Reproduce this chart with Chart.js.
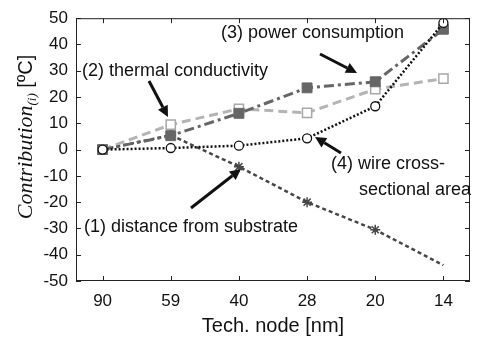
<!DOCTYPE html>
<html>
<head>
<meta charset="utf-8">
<script src="https://cdn.jsdelivr.net/npm/chart.js@4/dist/chart.umd.min.js"></script>
<style>
  html, body { margin: 0; padding: 0; background: #fff; }
</style>
</head>
<body>
<canvas id="myChart" width="478" height="339"></canvas>
<script>
// Technology nodes along the x axis
var nodes = ["90", "59", "40", "28", "20", "14"];

// Contribution of each parameter [ºC]
var distance = [0, 5.5, -6.5, -20, -30.5, -44];
var thermal = [0, 9.5, 15.5, 14, 23, 27];
var power = [0, 5.3, 13.8, 23.5, 25.8, 45.8];
var wire = [0, 0.6, 1.5, 4.3, 16.5, 48.2];

var yTicks = [50, 40, 30, 20, 10, 0, -10, -20, -30, -40, -50];

function toPoints(arr) {
  return arr.map(function (v, i) { return { x: i, y: v }; });
}

var sans = "'Liberation Sans', Arial, Helvetica, sans-serif";

// Inward tick marks on all four sides, the y title and the callout labels
var extras = {
  id: "extras",
  afterDraw: function (chart) {
    var ctx = chart.ctx;
    var a = chart.chartArea;
    var xs = chart.scales.x, ys = chart.scales.y;
    ctx.save();
    ctx.strokeStyle = "#222";
    ctx.lineWidth = 1;
    ctx.beginPath();
    nodes.forEach(function (n, i) {
      var px = Math.round(xs.getPixelForValue(i)) + 0.5;
      ctx.moveTo(px, a.bottom); ctx.lineTo(px, a.bottom - 5);
      ctx.moveTo(px, a.top); ctx.lineTo(px, a.top + 5);
    });
    yTicks.forEach(function (t) {
      var py = Math.round(ys.getPixelForValue(t)) + 0.5;
      ctx.moveTo(a.left, py); ctx.lineTo(a.left + 5, py);
      ctx.moveTo(a.right, py); ctx.lineTo(a.right - 5, py);
    });
    ctx.stroke();
    ctx.strokeRect(a.left + 0.5, a.top + 0.5, a.right - a.left - 1, a.bottom - a.top - 1);

    // y axis title, mixed fonts
    ctx.translate(24, 137);
    ctx.rotate(-Math.PI / 2);
    ctx.fillStyle = "#111";
    ctx.textBaseline = "alphabetic";
    var f1 = "italic 22px 'Liberation Serif', 'Times New Roman', serif";
    var f2 = "italic 13px 'Liberation Serif', 'Times New Roman', serif";
    var f3 = "20px " + sans;
    ctx.font = f1; var w1 = ctx.measureText("Contribution").width;
    ctx.font = f2; var w2 = ctx.measureText("(i)").width;
    ctx.font = f3; var w3 = ctx.measureText(" [ºC]").width;
    var x0 = -(w1 + w2 + w3) / 2;
    ctx.font = f1; ctx.fillText("Contribution", x0, 8);
    ctx.font = f2; ctx.fillText("(i)", x0 + w1, 12);
    ctx.font = f3; ctx.fillText(" [ºC]", x0 + w1 + w2, 8);
    ctx.restore();

    // callouts
    ctx.save();
    ctx.fillStyle = "#111";
    ctx.font = "18px " + sans;
    ctx.textBaseline = "middle";
    ctx.fillText("(3) power consumption", 221, 33);
    ctx.fillText("(2) thermal conductivity", 82, 71);
    ctx.fillText("(4) wire cross-", 331, 164);
    ctx.fillText("sectional area", 359, 190);
    ctx.fillText("(1) distance from substrate", 84, 227);
    arrow(ctx, 320, 54, 357, 73);
    arrow(ctx, 149, 81, 168, 117);
    arrow(ctx, 341, 153, 315, 137);
    arrow(ctx, 191, 208, 241, 169);
    ctx.restore();
  }
};

function arrow(ctx, x1, y1, x2, y2) {
  var ang = Math.atan2(y2 - y1, x2 - x1);
  var head = 11, hw = 5.5;
  var bx = x2 - head * Math.cos(ang), by = y2 - head * Math.sin(ang);
  ctx.strokeStyle = "#111";
  ctx.lineWidth = 3;
  ctx.beginPath();
  ctx.moveTo(x1, y1);
  ctx.lineTo(bx, by);
  ctx.stroke();
  ctx.beginPath();
  ctx.moveTo(x2, y2);
  ctx.lineTo(bx + hw * Math.sin(ang), by - hw * Math.cos(ang));
  ctx.lineTo(bx - hw * Math.sin(ang), by + hw * Math.cos(ang));
  ctx.closePath();
  ctx.fill();
}

var ctx = document.getElementById("myChart").getContext("2d");

var myChart = new Chart(ctx, {
  type: "line",
  data: {
    datasets: [
      {
        label: "(1) distance from substrate",
        data: toPoints(distance),
        borderColor: "#474747",
        borderWidth: 2.5,
        borderDash: [4, 3],
        pointStyle: "star",
        pointRadius: [5, 5, 5, 5, 5, 0],
        pointBorderColor: "#474747",
        pointBorderWidth: 1.5,
        order: 4
      },
      {
        label: "(2) thermal conductivity",
        data: toPoints(thermal),
        borderColor: "#b4b4b4",
        borderWidth: 3,
        borderDash: [9, 5],
        pointStyle: "rect",
        pointRadius: 6.5,
        pointBackgroundColor: "#fff",
        pointBorderColor: "#a8a8a8",
        pointBorderWidth: 1.5,
        order: 3
      },
      {
        label: "(3) power consumption",
        data: toPoints(power),
        borderColor: "#666",
        borderWidth: 3,
        borderDash: [10, 4, 3, 4],
        pointStyle: "rect",
        pointRadius: 7,
        pointBackgroundColor: "#666",
        pointBorderColor: "#666",
        pointBorderWidth: 1,
        order: 2
      },
      {
        label: "(4) wire cross-sectional area",
        data: toPoints(wire),
        borderColor: "#111",
        borderWidth: 2.5,
        borderDash: [2, 2],
        pointStyle: "circle",
        pointRadius: 4.5,
        pointBackgroundColor: "#fff",
        pointBorderColor: "#111",
        pointBorderWidth: 1.3,
        order: 1
      }
    ]
  },
  options: {
    responsive: false,
    animation: false,
    devicePixelRatio: 1,
    layout: { padding: { top: 15, right: 1, left: 0, bottom: 0 } },
    plugins: { legend: { display: false }, tooltip: { enabled: false } },
    scales: {
      x: {
        type: "linear",
        min: -0.39,
        max: 5.39,
        afterBuildTicks: function (scale) {
          scale.ticks = nodes.map(function (n, i) { return { value: i }; });
        },
        afterFit: function (scale) { scale.height = 58; },
        ticks: {
          callback: function (v) { return nodes[v]; },
          font: { family: sans, size: 17 },
          color: "#111",
          padding: 10,
          maxRotation: 0
        },
        grid: { drawOnChartArea: false, drawTicks: false },
        border: { display: false },
        title: {
          display: true,
          text: "Tech. node [nm]",
          font: { family: sans, size: 20 },
          color: "#111",
          padding: { top: 4, bottom: 1 }
        }
      },
      y: {
        min: -50,
        max: 50,
        afterBuildTicks: function (scale) {
          scale.ticks = yTicks.map(function (t) { return { value: t }; });
        },
        afterFit: function (scale) { scale.width = 76; },
        ticks: {
          font: { family: sans, size: 17 },
          color: "#111",
          padding: 8
        },
        grid: { drawOnChartArea: false, drawTicks: false },
        border: { display: false }
      }
    }
  },
  plugins: [extras]
});
</script>
</body>
</html>
